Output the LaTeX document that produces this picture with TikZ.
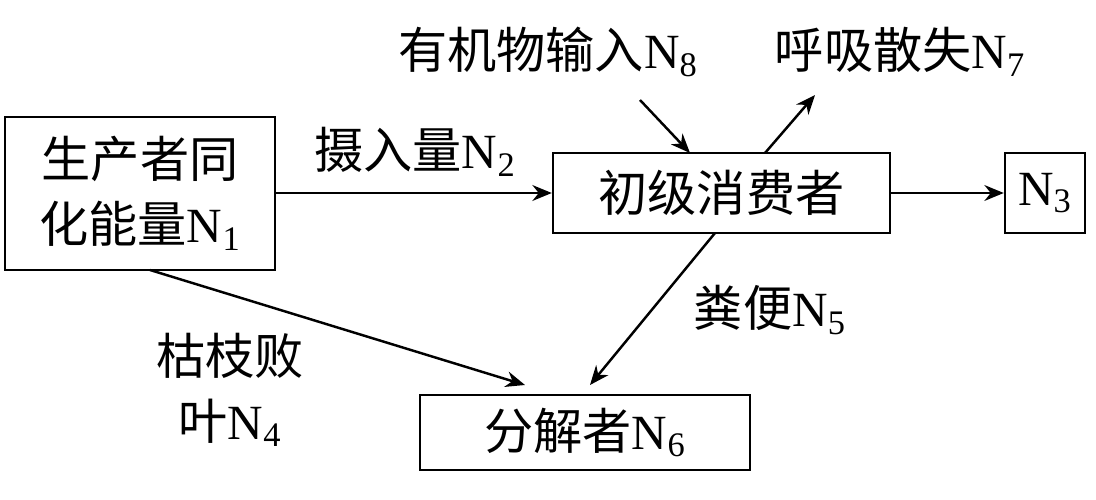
\documentclass[tikz,border=0pt]{standalone}
\usepackage{fontspec}
\setmainfont{Liberation Serif}
\newfontfamily\cjk{Noto Sans CJK SC}
\usetikzlibrary{arrows.meta}
\newcommand{\zh}[1]{{\cjk #1}}
\newcommand{\sbs}[1]{\textsubscript{#1}}
\begin{document}
\begin{tikzpicture}[x=0.02cm,y=-0.02cm,
  box/.style={draw,line width=1.4pt,inner sep=0pt},
  lab/.style={font=\fontsize{28}{37}\selectfont,align=center,inner sep=0pt},
  arr/.style={line width=1.4pt,-{Stealth[length=11pt,width=9pt]}}]
\useasboundingbox (0,0) rectangle (1096,500);
\node[box,minimum width=270*0.02cm,minimum height=153*0.02cm] (P) at (140,193.5) {};
\node[lab] at (P.center) {\zh{生产者同}\\\zh{化能量}N\sbs{1}};
\node[box,minimum width=337*0.02cm,minimum height=80*0.02cm] (C) at (721.5,193) {};
\node[lab] at (C.center) {\zh{初级消费者}};
\node[box,minimum width=80*0.02cm,minimum height=80*0.02cm] (N3) at (1045,193) {};
\node[lab] at (N3.center) {N\sbs{3}};
\node[box,minimum width=330*0.02cm,minimum height=75*0.02cm] (D) at (585,432.5) {};
\node[lab] at (D.center) {\zh{分解者}N\sbs{6}};
\coordinate (pb) at (150,270);
\coordinate (cb) at (715,233);
\coordinate (in) at (640,100);
\coordinate (ct) at (690,153);
\coordinate (co) at (765,153);
\coordinate (out) at (815,95);
\draw[arr] (P.east |- C.west) -- (C.west);
\draw[arr] (C.east) -- (N3.west);
\draw[arr] (pb) -- (525,385);
\draw[arr] (cb) -- (590,385);
\draw[arr] (in) -- (ct);
\draw[arr] (co) -- (out);
\node[lab] (l2) at (415,152) {\zh{摄入量}N\sbs{2}};
\node[lab] (l4) at (230,390) {\zh{枯枝败}\\\zh{叶}N\sbs{4}};
\node[lab] (l5) at (770,310) {\zh{粪便}N\sbs{5}};
\node[lab] (l8) at (548,52) {\zh{有机物输入}N\sbs{8}};
\node[lab] (l7) at (900,52) {\zh{呼吸散失}N\sbs{7}};
\end{tikzpicture}
\end{document}
